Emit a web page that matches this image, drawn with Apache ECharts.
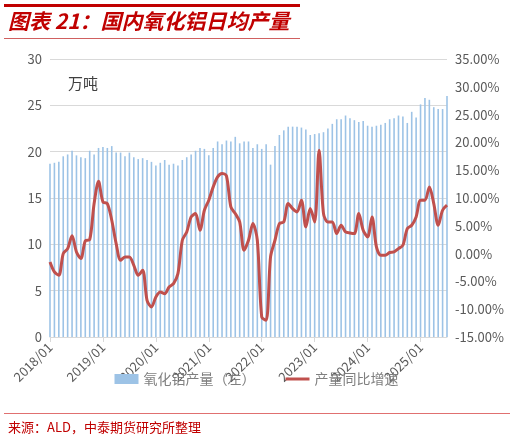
<!DOCTYPE html>
<html>
<head>
<meta charset="utf-8">
<script src="https://cdn.jsdelivr.net/npm/echarts@6/dist/echarts.min.js"></script>
<style>
  html, body { margin: 0; padding: 0; background: #fff; }
  #chart { width: 513px; height: 443px; }
</style>
</head>
<body>
<div id="chart"></div>
<script>
// 2018/01 - 2025/07 月度
const years = [2018, 2019, 2020, 2021, 2022, 2023, 2024, 2025];
const months = [];
years.forEach(y => {
  for (let m = 1; m <= 12; m++) {
    if (y === 2025 && m > 7) break;
    months.push(y + '/' + String(m).padStart(2, '0'));
  }
});

// 氧化铝产量（万吨）
const output = [
  18.7, 18.8, 18.9, 19.5, 19.7, 20.1, 19.6, 19.4, 19.3, 20.1, 19.7, 20.4,
  20.5, 20.4, 20.6, 19.9, 19.9, 19.5, 19.9, 19.4, 19.2, 19.3, 19.1, 18.9,
  18.5, 18.8, 19.1, 18.6, 18.7, 18.5, 19.1, 19.4, 19.7, 20.1, 20.4, 20.3,
  19.6, 20.4, 21.1, 20.8, 21.2, 21.1, 21.6, 20.9, 21.1, 21.1, 20.4, 20.8,
  20.3, 20.8, 18.6, 20.6, 21.8, 22.3, 22.7, 22.7, 22.7, 22.6, 22.4, 21.8,
  21.9, 22.0, 22.1, 22.5, 23.0, 23.5, 23.5, 23.9, 23.6, 23.4, 23.2, 23.3,
  22.8, 22.7, 22.8, 22.9, 23.1, 23.5, 23.6, 23.9, 23.8, 23.1, 24.3, 23.7,
  25.1, 25.8, 25.6, 24.8, 24.6, 24.6, 26.0
];

// 产量同比增速（%）
const yoy = [
  -1.5, -3.3, -3.9, 0.0, 0.9, 3.2, 0.3, -0.9, 2.3, 2.5, 9.0, 13.0,
  9.3, 9.0, 6.0, 1.8, -1.2, -0.6, -0.6, -2.1, -3.9, -3.0, -8.4, -9.6,
  -7.8, -6.9, -7.2, -6.0, -5.4, -3.6, 2.4, 3.9, 6.6, 7.2, 4.2, 7.8,
  9.6, 12.0, 13.8, 14.4, 14.0, 8.4, 7.2, 5.7, 0.6, 2.4, 5.4, 2.4,
  -11.4, -12.0, -0.6, 2.4, 5.4, 5.7, 9.0, 8.1, 7.5, 9.6, 4.8, 8.1,
  5.7, 18.6, 7.2, 5.7, 5.7, 3.6, 5.1, 3.9, 3.7, 3.6, 7.2, 4.2,
  3.0, 6.6, 1.2, -0.3, -0.3, 0.2, 0.3, 0.9, 1.5, 4.5, 5.1, 6.6,
  9.6, 9.6, 12.0, 9.0, 5.1, 7.8, 8.7
];

const chart = echarts.init(document.getElementById('chart'));
const axisText = { color: '#595959', fontSize: 13, fontFamily: 'Noto Sans CJK SC' };

chart.setOption({
  animation: false,
  grid: { left: 50, right: 66, top: 59, bottom: 106 },
  legend: {
    bottom: 52, left: 'center', itemGap: 30,
    textStyle: { color: '#7f7f7f', fontSize: 14, fontFamily: 'Noto Sans CJK SC' },
    data: [
      { name: '氧化铝产量（左）', icon: 'rect' },
      { name: '产量同比增速', icon: 'path://M0,0L24,0L24,3L0,3Z' }
    ],
    itemWidth: 24, itemHeight: 10
  },
  xAxis: {
    type: 'category', data: months, boundaryGap: false,
    axisLine: { lineStyle: { color: '#d9d9d9' } },
    axisTick: { show: true, interval: 11, alignWithLabel: true, lineStyle: { color: '#d9d9d9' } },
    axisLabel: { ...axisText, interval: 11, rotate: 45 }
  },
  yAxis: [
    {
      type: 'value', min: 0, max: 30, interval: 5,
      name: '万吨', nameLocation: 'end', nameGap: -32,
      nameTextStyle: { color: '#404040', fontSize: 15, fontFamily: 'Noto Sans CJK SC', align: 'left', padding: [0, 0, 0, 18] },
      axisLabel: axisText,
      splitLine: { lineStyle: { color: '#d9d9d9' } }
    },
    {
      type: 'value', min: -15, max: 35, interval: 5,
      axisLabel: { ...axisText, formatter: v => v.toFixed(2) + '%' },
      splitLine: { show: false }
    }
  ],
  series: [
    {
      name: '氧化铝产量（左）', type: 'bar', data: output,
      barWidth: 1.6, itemStyle: { color: '#9dc3e6' }
    },
    {
      name: '产量同比增速', type: 'line', yAxisIndex: 1, data: yoy,
      smooth: 0.3, symbol: 'none',
      lineStyle: { color: '#c0504d', width: 3 }, itemStyle: { color: '#c0504d' }
    }
  ],
  graphic: [
    { type: 'rect', shape: { x: 4, y: 4, width: 296, height: 3 }, style: { fill: '#c00000' } },
    { type: 'rect', shape: { x: 4, y: 38, width: 296, height: 1 }, style: { fill: '#d06060' } },
    { type: 'text', left: 8, top: 11, style: { text: '图表 21：国内氧化铝日均产量', fill: '#c00000', font: 'italic bold 21px "Noto Sans CJK SC"' } },
    { type: 'rect', shape: { x: 4, y: 413, width: 506, height: 1 }, style: { fill: '#e07070' } },
    { type: 'text', left: 8, top: 421, style: { text: '来源：ALD，中泰期货研究所整理', fill: '#c00000', font: '13px "Noto Sans CJK SC"' } }
  ]
});
</script>
</body>
</html>
